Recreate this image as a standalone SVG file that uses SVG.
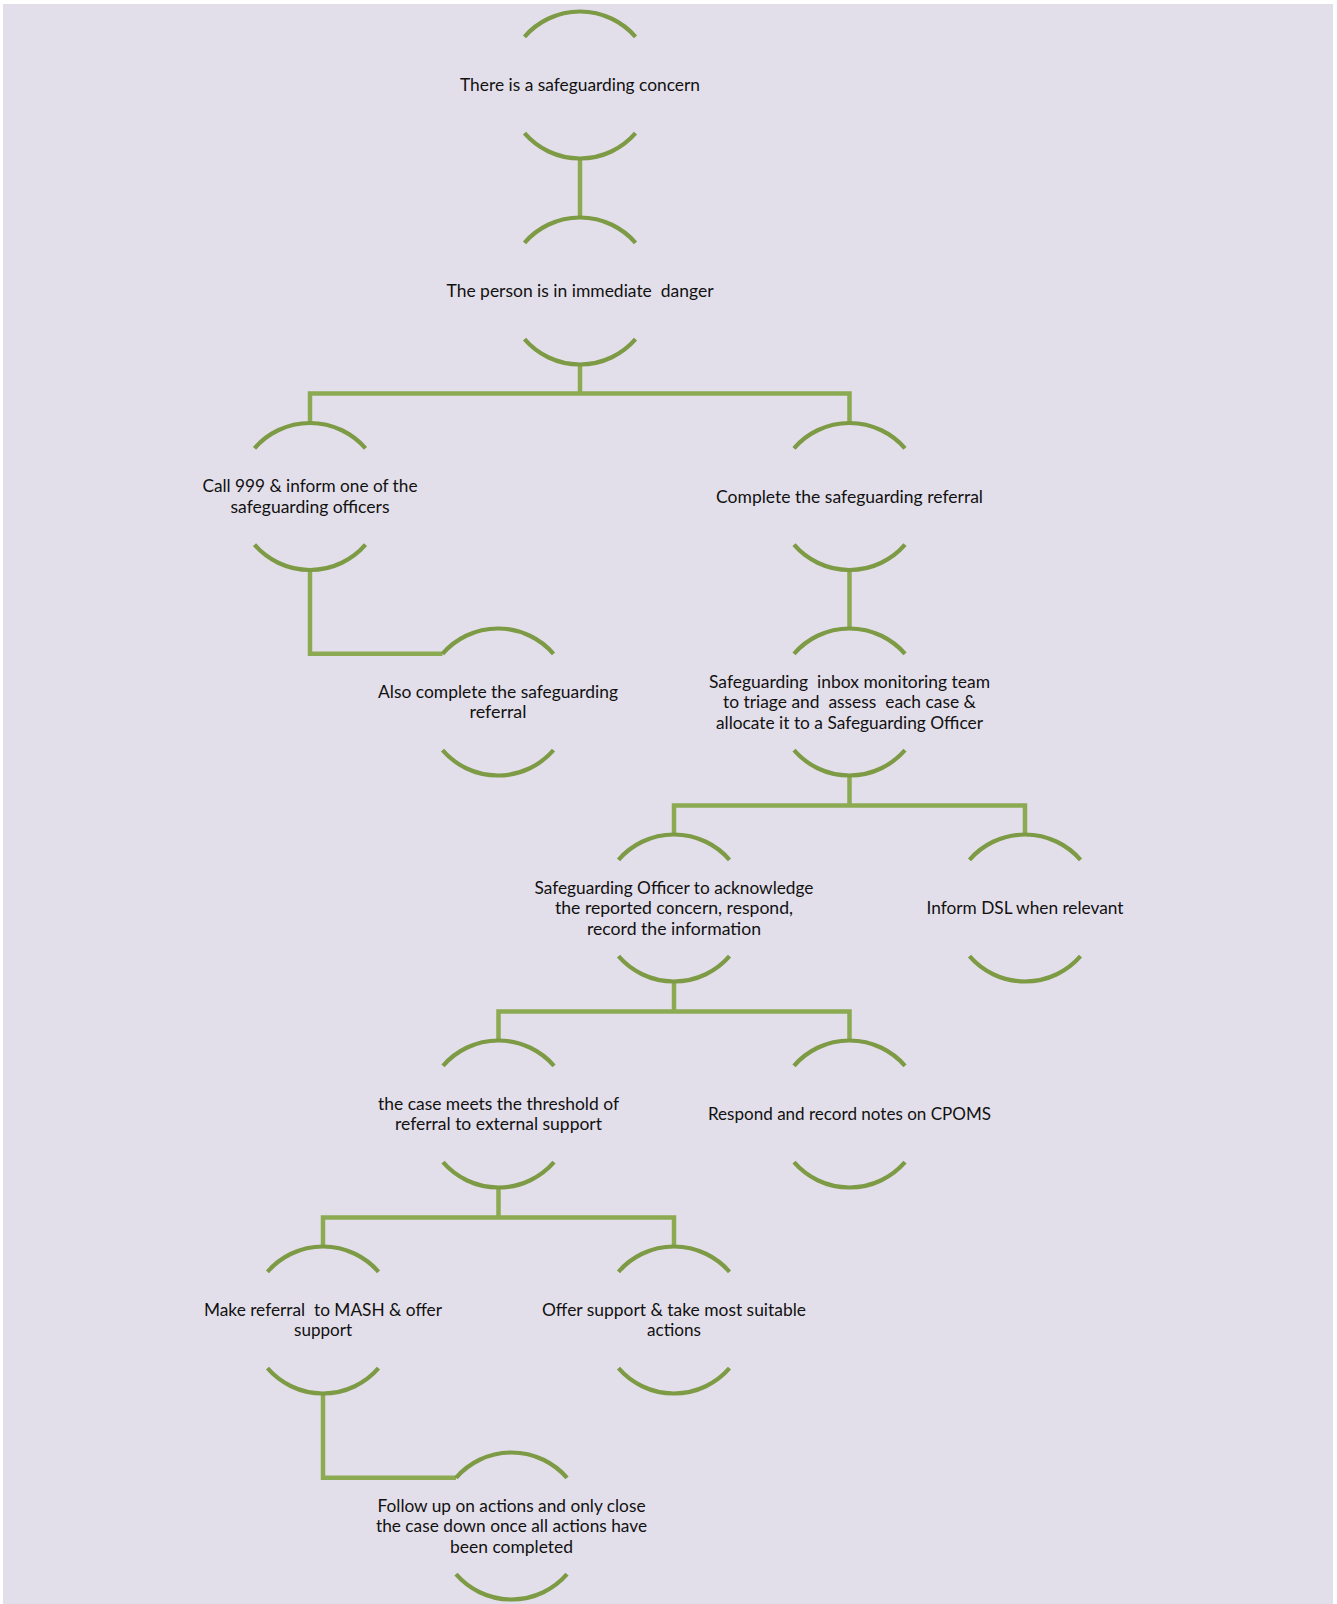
<svg xmlns="http://www.w3.org/2000/svg" width="1337" height="1604" viewBox="0 0 1337 1604">
<style>
.arc{fill:none;stroke:#7D9A45;stroke-width:4.2;stroke-linecap:butt}
.con{fill:none;stroke:#8CAA52;stroke-width:4.5;stroke-linejoin:miter;stroke-linecap:butt}
text{font-family:Lato,"Open Sans","Liberation Sans",sans-serif;font-size:17px;fill:#111111;text-anchor:middle;white-space:pre}
</style>
<rect x="0" y="0" width="1337" height="1604" fill="#ffffff"/>
<rect x="3" y="4" width="1330" height="1600" fill="#E3DFEA"/>
<g id="connectors">
<path class="con" d="M580 158.5 V217.5"/>
<path class="con" d="M580 364.5 V393.5 M310 423 V393.5 H849.5 V423"/>
<path class="con" d="M310 570 V653.8 H442.5"/>
<path class="con" d="M849.5 570 V628.5"/>
<path class="con" d="M849.5 775.5 V805.5 M674 834.5 V805.5 H1025 V834.5"/>
<path class="con" d="M674 981.5 V1011.5 M498.5 1040.5 V1011.5 H849.5 V1040.5"/>
<path class="con" d="M498.5 1187.5 V1217.5 M323 1246.5 V1217.5 H674 V1246.5"/>
<path class="con" d="M323 1393.5 V1477.8 H456"/>
</g>
<g id="n1">
<path class="arc" d="M524.5 36.8 A73.5 73.5 0 0 1 635.5 36.8"/>
<path class="arc" d="M524.5 133.2 A73.5 73.5 0 0 0 635.5 133.2"/>
<text x="580" y="91" textLength="240" lengthAdjust="spacingAndGlyphs">There is a safeguarding concern</text>
</g>
<g id="n2">
<path class="arc" d="M524.5 242.8 A73.5 73.5 0 0 1 635.5 242.8"/>
<path class="arc" d="M524.5 339.2 A73.5 73.5 0 0 0 635.5 339.2"/>
<text x="580" y="297" textLength="267" lengthAdjust="spacingAndGlyphs">The person is in immediate  danger</text>
</g>
<g id="n3">
<path class="arc" d="M254.5 448.3 A73.5 73.5 0 0 1 365.5 448.3"/>
<path class="arc" d="M254.5 544.7 A73.5 73.5 0 0 0 365.5 544.7"/>
<text x="310" y="492" textLength="215" lengthAdjust="spacingAndGlyphs">Call 999 &amp; inform one of the</text>
<text x="310" y="512.5" textLength="159" lengthAdjust="spacingAndGlyphs">safeguarding officers</text>
</g>
<g id="n4">
<path class="arc" d="M794 448.3 A73.5 73.5 0 0 1 905 448.3"/>
<path class="arc" d="M794 544.7 A73.5 73.5 0 0 0 905 544.7"/>
<text x="849.5" y="502.5" textLength="267" lengthAdjust="spacingAndGlyphs">Complete the safeguarding referral</text>
</g>
<g id="n5">
<path class="arc" d="M442.5 653.8 A73.5 73.5 0 0 1 553.5 653.8"/>
<path class="arc" d="M442.5 750.2 A73.5 73.5 0 0 0 553.5 750.2"/>
<text x="498" y="697.8" textLength="240" lengthAdjust="spacingAndGlyphs">Also complete the safeguarding</text>
<text x="498" y="718.3" textLength="57" lengthAdjust="spacingAndGlyphs">referral</text>
</g>
<g id="n6">
<path class="arc" d="M794 653.8 A73.5 73.5 0 0 1 905 653.8"/>
<path class="arc" d="M794 750.2 A73.5 73.5 0 0 0 905 750.2"/>
<text x="849.5" y="687.5" textLength="281" lengthAdjust="spacingAndGlyphs">Safeguarding  inbox monitoring team</text>
<text x="849.5" y="708" textLength="253" lengthAdjust="spacingAndGlyphs">to triage and  assess  each case &amp;</text>
<text x="849.5" y="728.5" textLength="267" lengthAdjust="spacingAndGlyphs">allocate it to a Safeguarding Officer</text>
</g>
<g id="n7">
<path class="arc" d="M618.5 859.8 A73.5 73.5 0 0 1 729.5 859.8"/>
<path class="arc" d="M618.5 956.2 A73.5 73.5 0 0 0 729.5 956.2"/>
<text x="674" y="893.5" textLength="279" lengthAdjust="spacingAndGlyphs">Safeguarding Officer to acknowledge</text>
<text x="674" y="914" textLength="238" lengthAdjust="spacingAndGlyphs">the reported concern, respond,</text>
<text x="674" y="934.5" textLength="174" lengthAdjust="spacingAndGlyphs">record the information</text>
</g>
<g id="n8">
<path class="arc" d="M969.5 859.8 A73.5 73.5 0 0 1 1080.5 859.8"/>
<path class="arc" d="M969.5 956.2 A73.5 73.5 0 0 0 1080.5 956.2"/>
<text x="1025" y="914" textLength="197" lengthAdjust="spacingAndGlyphs">Inform DSL when relevant</text>
</g>
<g id="n9">
<path class="arc" d="M443 1065.8 A73.5 73.5 0 0 1 554 1065.8"/>
<path class="arc" d="M443 1162.2 A73.5 73.5 0 0 0 554 1162.2"/>
<text x="498.5" y="1109.8" textLength="241" lengthAdjust="spacingAndGlyphs">the case meets the threshold of</text>
<text x="498.5" y="1130.3" textLength="207" lengthAdjust="spacingAndGlyphs">referral to external support</text>
</g>
<g id="n10">
<path class="arc" d="M794 1065.8 A73.5 73.5 0 0 1 905 1065.8"/>
<path class="arc" d="M794 1162.2 A73.5 73.5 0 0 0 905 1162.2"/>
<text x="849.5" y="1120" textLength="283" lengthAdjust="spacingAndGlyphs">Respond and record notes on CPOMS</text>
</g>
<g id="n11">
<path class="arc" d="M267.5 1271.8 A73.5 73.5 0 0 1 378.5 1271.8"/>
<path class="arc" d="M267.5 1368.2 A73.5 73.5 0 0 0 378.5 1368.2"/>
<text x="323" y="1315.8" textLength="238" lengthAdjust="spacingAndGlyphs">Make referral  to MASH &amp; offer</text>
<text x="323" y="1336.3" textLength="58" lengthAdjust="spacingAndGlyphs">support</text>
</g>
<g id="n12">
<path class="arc" d="M618.5 1271.8 A73.5 73.5 0 0 1 729.5 1271.8"/>
<path class="arc" d="M618.5 1368.2 A73.5 73.5 0 0 0 729.5 1368.2"/>
<text x="674" y="1315.8" textLength="264" lengthAdjust="spacingAndGlyphs">Offer support &amp; take most suitable</text>
<text x="674" y="1336.3" textLength="54" lengthAdjust="spacingAndGlyphs">actions</text>
</g>
<g id="n13">
<path class="arc" d="M456 1477.8 A73.5 73.5 0 0 1 567 1477.8"/>
<path class="arc" d="M456 1574.2 A73.5 73.5 0 0 0 567 1574.2"/>
<text x="511.5" y="1511.5" textLength="268" lengthAdjust="spacingAndGlyphs">Follow up on actions and only close</text>
<text x="511.5" y="1532" textLength="271" lengthAdjust="spacingAndGlyphs">the case down once all actions have</text>
<text x="511.5" y="1552.5" textLength="123" lengthAdjust="spacingAndGlyphs">been completed</text>
</g>
</svg>
